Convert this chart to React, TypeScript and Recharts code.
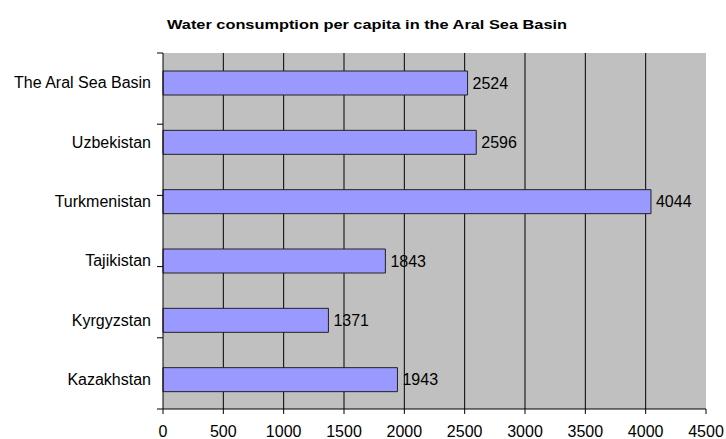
import React from 'react';
import { BarChart, Bar, XAxis, YAxis, CartesianGrid, LabelList, ReferenceLine } from 'recharts';

const categories = ['The Aral Sea Basin', 'Uzbekistan', 'Turkmenistan', 'Tajikistan', 'Kyrgyzstan', 'Kazakhstan'];
const consumption = [2524, 2596, 4044, 1843, 1371, 1943];
const xTicks = [0, 500, 1000, 1500, 2000, 2500, 3000, 3500, 4000, 4500];
const bandTicks = [0, 1, 2, 3, 4, 5, 6];

const data = categories.map((name, i) => ({ name, value: consumption[i] }));

const FONT = '"Liberation Sans", Arial, Helvetica, sans-serif';

const GridLine = (p: any) => {
  const last = xTicks.length - 1;
  if (p.index === last || p.index === 0) return <g key={p.key} />;
  return <line key={p.key} x1={p.x1} y1={p.y1} x2={p.x2} y2={p.y2} stroke="#000" strokeWidth={1} fill="none" />;
};

const EmptyTick = () => <g />;

export default function App() {
  return (
    <div style={{ position: 'absolute', left: 0, top: 0, width: 726, height: 439, background: '#fff', fontFamily: FONT }}>
      <svg width={726} height={40} style={{ position: 'absolute', left: 0, top: 0 }}>
        <text
          x={367}
          y={28.5}
          textAnchor="middle"
          fontFamily={FONT}
          fontWeight="bold"
          fontSize={12}
          textLength={400}
          lengthAdjust="spacingAndGlyphs"
          fill="#000"
        >
          Water consumption per capita in the Aral Sea Basin
        </text>
      </svg>
      <div style={{ position: 'absolute', left: 0, top: 0 }}>
        <BarChart
          width={726}
          height={439}
          data={data}
          layout="vertical"
          margin={{ top: 53, right: 20, bottom: 0, left: 0 }}
          barCategoryGap={0}
        >
          <XAxis
            type="number"
            domain={[0, 4500]}
            ticks={xTicks}
            interval={0}
            height={30}
            tickSize={5}
            tickMargin={12}
            axisLine={{ stroke: '#000' }}
            tickLine={{ stroke: '#000' }}
            tick={{ fill: '#000', fontSize: 16, fontFamily: FONT }}
          />
          <YAxis
            yAxisId="a"
            type="number"
            domain={[0, 6]}
            ticks={bandTicks}
            interval={0}
            width={1}
            tick={EmptyTick}
            tickSize={6}
            axisLine={{ stroke: '#000' }}
            tickLine={{ stroke: '#000' }}
          />
          <YAxis
            yAxisId="b"
            type="category"
            dataKey="name"
            width={162}
            axisLine={false}
            tickLine={false}
            tickSize={0}
            tickMargin={11}
            interval={0}
            tick={{ fill: '#000', fontSize: 16, fontFamily: FONT }}
          />
          <Bar
            yAxisId="b"
            dataKey="value"
            fill="#9999FF"
            stroke="#222"
            strokeWidth={1}
            barSize={24}
            isAnimationActive={false}
          >
            <LabelList dataKey="value" position="right" offset={5} fill="#000" fontSize={16} fontFamily={FONT} />
          </Bar>
          <CartesianGrid yAxisId="a" horizontal={false} vertical={GridLine} stroke="#000" fill="#C0C0C0" />
          <ReferenceLine yAxisId="a" y={6} stroke="#808080" />
        </BarChart>
      </div>
    </div>
  );
}
